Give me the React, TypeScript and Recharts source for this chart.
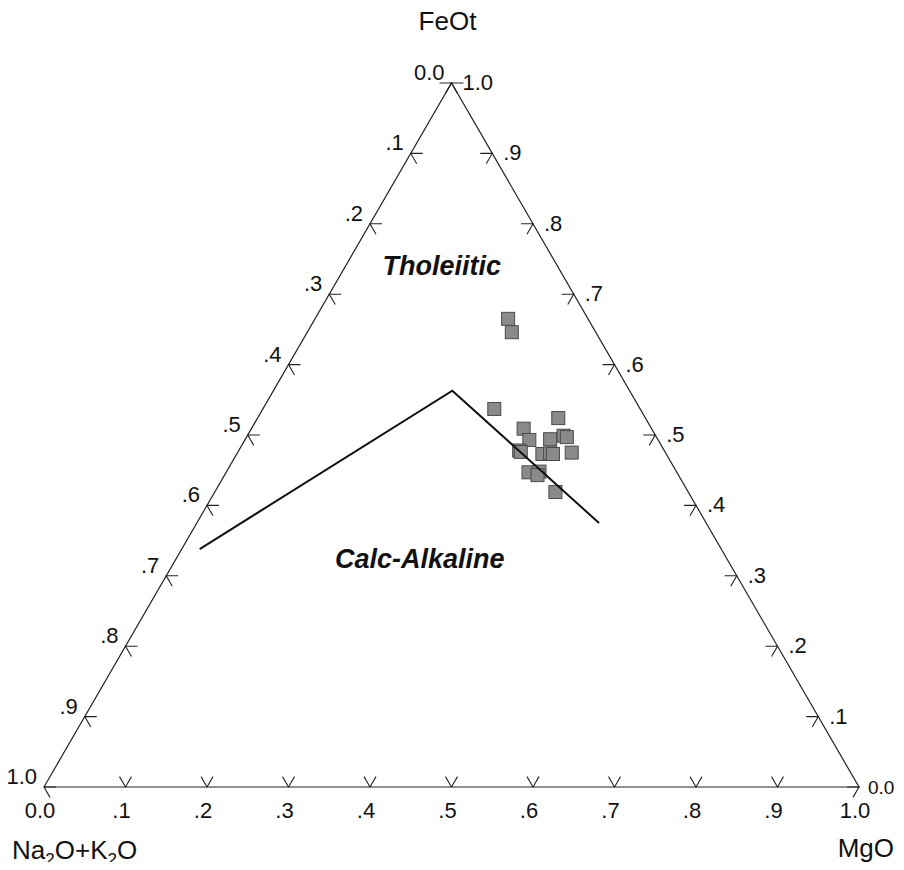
import React from 'react';
import { ScatterChart, Scatter, XAxis, YAxis } from 'recharts';

// AFM ternary: FeOt top, Na2O+K2O bottom-left, MgO bottom-right
const sampleFeOt = [0.665, 0.646, 0.537, 0.524, 0.509, 0.493, 0.494, 0.499, 0.497, 0.478, 0.476, 0.473, 0.474, 0.473, 0.475, 0.447, 0.448, 0.443, 0.419];
const sampleMgO = [0.237, 0.251, 0.284, 0.369, 0.334, 0.349, 0.374, 0.388, 0.393, 0.344, 0.347, 0.375, 0.384, 0.388, 0.41, 0.371, 0.384, 0.384, 0.418];
const sampleAlk = [0.098, 0.103, 0.179, 0.107, 0.157, 0.158, 0.132, 0.113, 0.11, 0.178, 0.177, 0.152, 0.142, 0.139, 0.115, 0.182, 0.168, 0.173, 0.163];

// tholeiitic / calc-alkaline boundary
const boundaryFeOt = [0.338, 0.563, 0.375];
const boundaryMgO = [0.022, 0.2195, 0.4935];

const tickValues = [0.1, 0.2, 0.3, 0.4, 0.5, 0.6, 0.7, 0.8, 0.9];
const sideTickValues = [0, 0.1, 0.2, 0.3, 0.4, 0.5, 0.6, 0.7, 0.8, 0.9, 1];
const tickLabels = ['0.0', '.1', '.2', '.3', '.4', '.5', '.6', '.7', '.8', '.9', '1.0'];

const fieldNames = ['Tholeiitic', 'Calc-Alkaline'];
const fieldFeOt = [0.74, 0.324];
const fieldMgO = [0.118, 0.299];

const H = Math.sqrt(3) / 2;
const toXY = (feot: number, mgo: number) => ({ x: mgo + feot / 2, y: feot * H });

const FONT = '"Liberation Sans", Arial, sans-serif';
const ARM = 12;

const outline = [toXY(0, 0), toXY(0, 1), toXY(1, 0), toXY(0, 0)];
const boundary = boundaryFeOt.map((f, i) => toXY(f, boundaryMgO[i]));
const samples = sampleFeOt.map((f, i) => ({ ...toXY(f, sampleMgO[i]), alk: sampleAlk[i] }));

const bottomTicks = tickValues.map((v) => ({ ...toXY(0, v), side: 'bottom' }));
// left edge: Na2O+K2O fraction, MgO = 0
const leftTicks = sideTickValues.map((v) => ({ ...toXY(1 - v, 0), side: 'left' }));
// right edge: FeOt fraction, Na2O+K2O = 0
const rightTicks = sideTickValues.map((v) => ({ ...toXY(v, 1 - v), side: 'right' }));
const ticks = [...bottomTicks, ...leftTicks, ...rightTicks];

const bottomLabels = sideTickValues.map((v, i) => ({ ...toXY(0, v), text: tickLabels[i], side: 'bottom' }));
const leftLabels = sideTickValues.map((v, i) => ({ ...toXY(1 - v, 0), text: tickLabels[i], side: 'left' }));
const rightLabels = sideTickValues.map((v, i) => ({ ...toXY(v, 1 - v), text: tickLabels[i], side: 'right' }));
const labels = [...bottomLabels, ...leftLabels, ...rightLabels];

const fields = fieldNames.map((n, i) => ({ ...toXY(fieldFeOt[i], fieldMgO[i]), text: n }));
const corners = [
  { ...toXY(1, 0), name: 'FeOt' },
  { ...toXY(0, 0), name: 'Alk' },
  { ...toXY(0, 1), name: 'MgO' },
];

const Blank = () => <g />;

const TickMark = (props: any) => {
  const { cx, cy, payload } = props;
  let d = '';
  if (payload.side === 'bottom') {
    d = `M${cx - ARM / 2},${cy - ARM * H}L${cx},${cy}L${cx + ARM / 2},${cy - ARM * H}`;
  } else if (payload.side === 'left') {
    d = `M${cx + ARM},${cy}L${cx},${cy}L${cx + ARM / 2},${cy + ARM * H}`;
  } else {
    d = `M${cx - ARM},${cy}L${cx},${cy}L${cx - ARM / 2},${cy + ARM * H}`;
  }
  return <path d={d} fill="none" stroke="#222" strokeWidth={1.1} />;
};

const TickLabel = (props: any) => {
  const { cx, cy, payload } = props;
  const common = { fontFamily: FONT, fontSize: 22, fill: '#111' };
  if (payload.side === 'bottom') {
    return <text x={cx - 4} y={cy + 31} textAnchor="middle" {...common}>{payload.text}</text>;
  }
  if (payload.side === 'left') {
    return <text x={cx - 7} y={cy - 3} textAnchor="end" {...common}>{payload.text}</text>;
  }
  // keep the bottom-right "0.0" inside the page edge
  const corner = payload.text === '0.0';
  return (
    <text x={cx + (corner ? 9 : 11)} y={cy + 7} textAnchor="start" {...common} fontSize={corner ? 19 : 22}>
      {payload.text}
    </text>
  );
};

const FieldLabel = (props: any) => {
  const { cx, cy, payload } = props;
  return (
    <text x={cx} y={cy + 9} textAnchor="middle" fontFamily={FONT} fontSize={27} fontWeight="bold" fontStyle="italic" fill="#111">
      {payload.text}
    </text>
  );
};

const CornerTitle = (props: any) => {
  const { cx, cy, payload } = props;
  const common = { fontFamily: FONT, fontSize: 26, fill: '#111' };
  if (payload.name === 'FeOt') {
    return <text x={cx - 4} y={cy - 53} textAnchor="middle" {...common}>FeOt</text>;
  }
  if (payload.name === 'MgO') {
    return <text x={cx + 35} y={cy + 70} textAnchor="end" {...common}>MgO</text>;
  }
  return (
    <text x={cx - 32} y={cy + 72} textAnchor="start" {...common}>
      Na<tspan fontSize={17} dy={6}>2</tspan>
      <tspan dy={-6}>O+K</tspan>
      <tspan fontSize={17} dy={6}>2</tspan>
      <tspan dy={-6}>O</tspan>
    </text>
  );
};

const SquareMarker = (props: any) => {
  const { cx, cy } = props;
  return <rect x={cx - 6.5} y={cy - 6.5} width={13} height={13} fill="#8a8a8a" stroke="#4a4a4a" strokeWidth={1} />;
};

export default function App() {
  return (
    <div style={{ width: 888, height: 854, background: '#fff' }}>
      <style>{'.recharts-surface { overflow: visible; }'}</style>
      <ScatterChart width={888} height={854} margin={{ top: 75, right: 37, bottom: 75, left: 36 }}>
        <XAxis type="number" dataKey="x" domain={[0, 1]} hide />
        <YAxis type="number" dataKey="y" domain={[0, H]} hide width={0} />
        <Scatter data={outline} line={{ stroke: '#222', strokeWidth: 1.2 }} lineType="joint" shape={Blank} isAnimationActive={false} />
        <Scatter data={ticks} shape={TickMark} isAnimationActive={false} />
        <Scatter data={labels} shape={TickLabel} isAnimationActive={false} />
        <Scatter data={corners} shape={CornerTitle} isAnimationActive={false} />
        <Scatter data={fields} shape={FieldLabel} isAnimationActive={false} />
        <Scatter data={samples} shape={SquareMarker} isAnimationActive={false} />
        <Scatter data={boundary} line={{ stroke: '#111', strokeWidth: 2 }} lineType="joint" shape={Blank} isAnimationActive={false} />
      </ScatterChart>
    </div>
  );
}
